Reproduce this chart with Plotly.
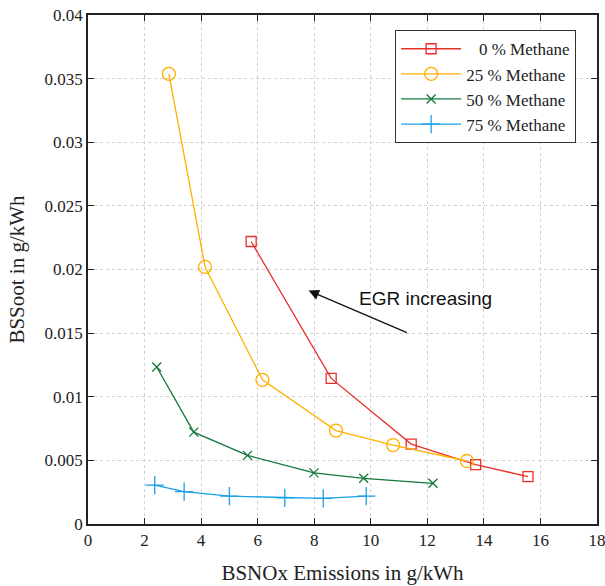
import plotly.graph_objects as go

nox_0 = [5.77, 8.60, 11.43, 13.71, 15.56]
soot_0 = [0.0222, 0.01144, 0.00628, 0.00466, 0.00373]
nox_25 = [2.86, 4.14, 6.17, 8.77, 10.79, 13.40]
soot_25 = [0.03537, 0.0202, 0.01133, 0.00734, 0.0062, 0.00495]
nox_50 = [2.43, 3.74, 5.64, 7.99, 9.75, 12.2]
soot_50 = [0.01234, 0.00722, 0.00539, 0.00402, 0.00359, 0.0032]
nox_75 = [2.36, 3.40, 5.0, 6.96, 8.32, 9.84]
soot_75 = [0.00305, 0.00255, 0.00219, 0.00206, 0.00201, 0.00219]

names = ["\u2007 0 % Methane", "25 % Methane", "50 % Methane", "75 % Methane"]
colors = ["#e8302a", "#ffb000", "#14783c", "#1aa0e6"]
symbols = ["square-open", "circle-open", "x-thin-open", "cross-thin-open"]
sizes = [10, 13, 9, 13]

fig = go.Figure()
for xs, ys, n, c, s, sz in zip([nox_0, nox_25, nox_50, nox_75],
                               [soot_0, soot_25, soot_50, soot_75],
                               names, colors, symbols, sizes):
    fig.add_trace(go.Scatter(x=xs, y=ys, name=n, mode="lines+markers",
                             line=dict(color=c, width=1.3),
                             marker=dict(symbol=s, size=sz, color=c,
                                         line=dict(color=c, width=1.3))))

serif = "Liberation Serif, Times New Roman, serif"
axis_common = dict(showline=True, linecolor="#222", linewidth=1.5, mirror="ticks",
                   ticks="inside", ticklen=6, tickcolor="#222",
                   showgrid=True, gridcolor="#d0d0d0", griddash="dot", gridwidth=1,
                   zeroline=False, automargin=False, ticklabeloverflow="allow",
                   tickfont=dict(family=serif, size=17, color="#222"))

fig.update_layout(
    width=605, height=586,
    margin=dict(l=88, r=8, t=15, b=62),
    paper_bgcolor="white", plot_bgcolor="white",
    xaxis=dict(range=[0, 18], dtick=2,
               title=dict(text="BSNOx Emissions in g/kWh", font=dict(family=serif, size=21, color="#222"), standoff=16),
               **axis_common),
    yaxis=dict(range=[0, 0.04], dtick=0.005,
               title=dict(text="BSSoot in g/kWh", font=dict(family=serif, size=21, color="#222"), standoff=14),
               **axis_common),
    legend=dict(x=0.603, y=0.9705, xanchor="left", yanchor="top",
                bgcolor="white", bordercolor="#333", borderwidth=1.2,
                font=dict(family=serif, size=17, color="#222"),
                itemwidth=60, tracegroupgap=0),
    showlegend=True,
)

fig.add_annotation(x=7.8, y=0.01834, ax=11.33, ay=0.01499, xref="x", yref="y",
                   axref="x", ayref="y", showarrow=True, arrowhead=2,
                   arrowsize=1.6, arrowwidth=1.3, arrowcolor="#111", text="")
fig.add_annotation(x=9.5, y=0.0177, xref="x", yref="y", text="EGR increasing",
                   showarrow=False, xanchor="left",
                   font=dict(family="Liberation Sans, Arial, sans-serif", size=19, color="#111"))

fig.write_html("out.html")
